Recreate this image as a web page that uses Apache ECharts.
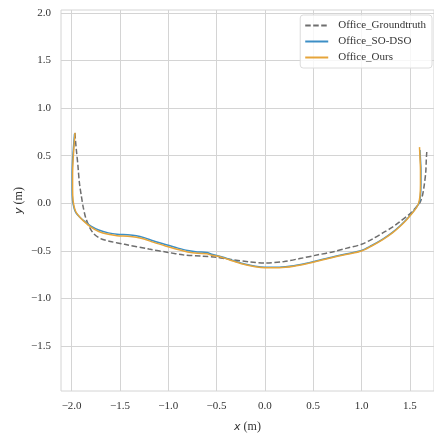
<!DOCTYPE html>
<html lang="en">
<head>
    <meta charset="UTF-8">
    <title>Office trajectory</title>
    <script src="https://cdn.jsdelivr.net/npm/echarts@6/dist/echarts.min.js"></script>
    <style>
        html, body { margin: 0; padding: 0; background: #fff; }
        #main { width: 434px; height: 438px; }
    </style>
</head>
<body>
    <div id="main"></div>
    <script>
        // tick labels
        var xTicks = [-2.0, -1.5, -1.0, -0.5, 0.0, 0.5, 1.0, 1.5];
        var yTicks = [-1.5, -1.0, -0.5, 0.0, 0.5, 1.0, 1.5, 2.0];

        var seriesNames = ['Office_Groundtruth', 'Office_SO-DSO', 'Office_Ours'];

        // trajectories, [x, y] in metres
        var groundtruth = [
            [-1.965, 0.74], [-1.96, 0.66], [-1.95, 0.55], [-1.935, 0.40], [-1.92, 0.22],
            [-1.90, 0.08], [-1.88, -0.04], [-1.855, -0.15], [-1.815, -0.25], [-1.77, -0.32],
            [-1.70, -0.37], [-1.60, -0.40], [-1.45, -0.43], [-1.20, -0.48], [-1.00, -0.515],
            [-0.85, -0.54], [-0.65, -0.555], [-0.50, -0.565], [-0.35, -0.59], [-0.15, -0.615],
            [0.00, -0.625], [0.20, -0.61], [0.36, -0.58], [0.55, -0.54], [0.70, -0.51],
            [0.85, -0.47], [1.00, -0.43], [1.12, -0.37], [1.22, -0.31], [1.32, -0.25],
            [1.40, -0.19], [1.50, -0.11], [1.565, -0.04], [1.60, 0.00], [1.63, 0.08],
            [1.65, 0.20], [1.665, 0.33], [1.67, 0.45], [1.675, 0.54]
        ];
        var soDso = [
            [-1.97, 0.73], [-1.98, 0.60], [-1.99, 0.45], [-1.995, 0.30], [-1.995, 0.15],
            [-1.99, 0.03], [-1.975, -0.05], [-1.955, -0.10], [-1.915, -0.145], [-1.865, -0.19],
            [-1.80, -0.24], [-1.72, -0.28], [-1.62, -0.31], [-1.53, -0.325], [-1.42, -0.33],
            [-1.33, -0.34], [-1.25, -0.36], [-1.15, -0.395], [-1.02, -0.435], [-0.90, -0.47],
            [-0.80, -0.495], [-0.70, -0.51], [-0.60, -0.515], [-0.55, -0.535], [-0.45, -0.56],
            [-0.33, -0.60], [-0.20, -0.64], [-0.10, -0.66], [0.00, -0.67], [0.15, -0.67],
            [0.30, -0.655], [0.45, -0.625], [0.55, -0.60], [0.71, -0.56], [0.85, -0.53],
            [1.00, -0.495], [1.10, -0.445], [1.22, -0.375], [1.32, -0.305], [1.40, -0.235],
            [1.46, -0.175], [1.52, -0.105], [1.565, -0.045], [1.595, 0.00], [1.61, 0.08],
            [1.615, 0.20], [1.615, 0.35], [1.61, 0.46], [1.605, 0.56]
        ];
        var ours = [
            [-1.965, 0.74], [-1.975, 0.60], [-1.985, 0.45], [-1.99, 0.30], [-1.99, 0.15],
            [-1.985, 0.03], [-1.97, -0.05], [-1.95, -0.10], [-1.91, -0.15], [-1.86, -0.20],
            [-1.80, -0.25], [-1.72, -0.295], [-1.62, -0.325], [-1.53, -0.34], [-1.42, -0.345],
            [-1.33, -0.355], [-1.25, -0.375], [-1.15, -0.41], [-1.02, -0.45], [-0.90, -0.485],
            [-0.80, -0.51], [-0.70, -0.525], [-0.60, -0.53], [-0.55, -0.545], [-0.45, -0.565],
            [-0.33, -0.605], [-0.20, -0.645], [-0.10, -0.665], [0.00, -0.675], [0.15, -0.675],
            [0.30, -0.66], [0.45, -0.63], [0.55, -0.605], [0.71, -0.565], [0.85, -0.535],
            [1.00, -0.50], [1.10, -0.45], [1.22, -0.38], [1.32, -0.31], [1.40, -0.24],
            [1.46, -0.18], [1.52, -0.11], [1.565, -0.05], [1.59, 0.00], [1.605, 0.08],
            [1.61, 0.20], [1.61, 0.35], [1.605, 0.48], [1.60, 0.59]
        ];

        var font = 'Liberation Serif';
        var gridColor = '#d4d4d4';

        function minus(v) {
            return v.toFixed(1).replace('-', '\u2212');
        }

        var myChart = echarts.init(document.getElementById('main'));
        myChart.setOption({
            animation: false,
            backgroundColor: '#fff',
            grid: {
                left: 61, right: -1, top: 10, bottom: 40,
                show: true, borderColor: gridColor, borderWidth: 1
            },
            legend: {
                orient: 'vertical',
                right: 2, top: 15,
                padding: [5, 6, 5, 4],
                itemWidth: 23, itemHeight: 12, itemGap: 5,
                itemStyle: { opacity: 0 },
                backgroundColor: 'rgba(255,255,255,0.8)',
                borderColor: '#dcdcdc', borderWidth: 1, borderRadius: 3,
                textStyle: { fontFamily: font, fontSize: 11, color: '#333', padding: [0, 0, 0, 5] },
                data: seriesNames
            },
            xAxis: {
                type: 'value', min: -2.11, max: 1.75,
                name: '{i|x} (m)', nameLocation: 'middle', nameGap: 30,
                nameMoveOverlap: false,
                nameTextStyle: {
                    fontFamily: font, fontSize: 12, color: '#333',
                    rich: { i: { fontFamily: 'DejaVu Sans', fontStyle: 'italic', fontSize: 11, color: '#333' } }
                },
                axisLine: { show: false },
                axisTick: { show: false, customValues: xTicks },
                axisLabel: {
                    customValues: xTicks, margin: 10,
                    fontFamily: font, fontSize: 11, color: '#333', formatter: minus
                },
                splitLine: { show: true, lineStyle: { color: gridColor, width: 1 } }
            },
            yAxis: {
                type: 'value', min: -1.97, max: 2.03,
                name: '{i|y} (m)', nameLocation: 'middle', nameGap: 36,
                nameMoveOverlap: false,
                nameTextStyle: {
                    fontFamily: font, fontSize: 12, color: '#333',
                    rich: { i: { fontFamily: 'DejaVu Sans', fontStyle: 'italic', fontSize: 11, color: '#333' } }
                },
                axisLine: { show: false },
                axisTick: { show: false, customValues: yTicks },
                axisLabel: {
                    customValues: yTicks, margin: 10,
                    fontFamily: font, fontSize: 11, color: '#333', formatter: minus
                },
                splitLine: { show: true, lineStyle: { color: gridColor, width: 1 } }
            },
            series: [
                {
                    name: seriesNames[0], type: 'line', data: groundtruth,
                    showSymbol: false, symbol: 'none', smooth: 0.3,
                    lineStyle: { color: '#6e6e6e', width: 1.5, type: [5.5, 2.5] },
                    itemStyle: { color: '#6e6e6e' }
                },
                {
                    name: seriesNames[1], type: 'line', data: soDso,
                    showSymbol: false, symbol: 'none', smooth: 0.3,
                    lineStyle: { color: '#3d8fc6', width: 1.5 },
                    itemStyle: { color: '#3d8fc6' }
                },
                {
                    name: seriesNames[2], type: 'line', data: ours,
                    showSymbol: false, symbol: 'none', smooth: 0.3,
                    lineStyle: { color: '#e6a53a', width: 1.5 },
                    itemStyle: { color: '#e6a53a' }
                }
            ]
        });
    </script>
</body>
</html>
